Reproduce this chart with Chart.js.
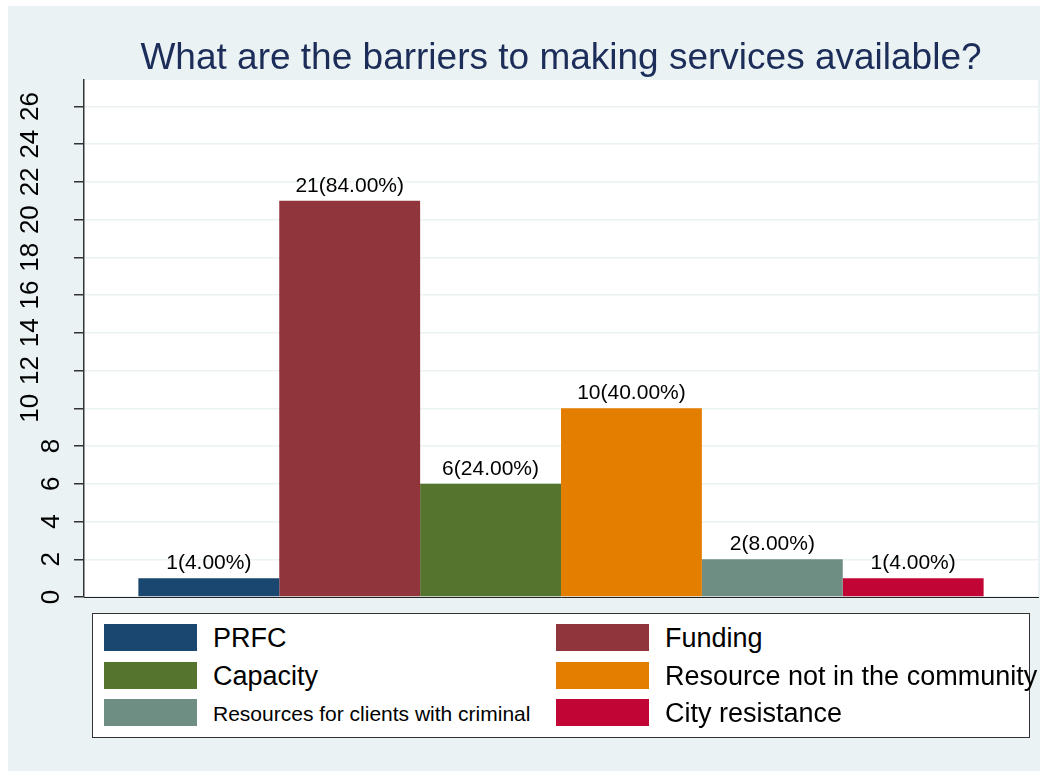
<!DOCTYPE html>
<html>
<head>
<meta charset="utf-8">
<script src="https://cdn.jsdelivr.net/npm/chart.js@4"></script>
<style>
  body { margin: 0; background: #fff; font-family: "Liberation Sans", Arial, sans-serif; }
  #bg { position: absolute; left: 8px; top: 6px; width: 1032px; height: 765px; background: #eaf2f3; }
  #canvas { position: absolute; left: 0; top: 0; }
  #legend { position: absolute; left: 92px; top: 613px; width: 936px; height: 123px;
            background: #fff; border: 1px solid #333; }
  .item { position: absolute; width: 400px; height: 27px; }
  .sw { position: absolute; left: 0; top: 0; width: 93px; height: 27px; }
  .lab { position: absolute; left: 109px; top: 50%; transform: translateY(-50%);
         white-space: nowrap; color: #000; line-height: 1; }
</style>
</head>
<body>
<div id="bg"></div>
<canvas id="canvas" width="1053" height="771"></canvas>
<div id="legend"></div>
<script>
let title = 'What are the barriers to making services available?';
let categories = ['PRFC', 'Funding', 'Capacity', 'Resource not in the community',
                  'Resources for clients with criminal', 'City resistance'];
let counts   = [1, 21, 6, 10, 2, 1];
let percents = [4, 84, 24, 40, 8, 4];
let yTicks   = [0, 2, 4, 6, 8, 10, 12, 14, 16, 18, 20, 22, 24, 26];
let yMax = 27.4;

// stata s2color palette
let colors = ['#1a476f', '#90353b', '#55752f', '#e37e00', '#6e8e84', '#c10534'];

let font = '"Liberation Sans", Arial, sans-serif';

// white plot region, rotated y labels, value labels over bars
let stataLook = {
  id: 'stataLook',
  beforeDraw(chart) {
    let a = chart.chartArea, ctx = chart.ctx;
    ctx.save();
    ctx.fillStyle = '#fff';
    ctx.fillRect(a.left, a.top, a.right - a.left, a.bottom - a.top);
    ctx.restore();
  },
  afterDatasetsDraw(chart) {
    let ctx = chart.ctx;
    ctx.save();
    ctx.fillStyle = '#000';
    ctx.textAlign = 'center';
    ctx.textBaseline = 'alphabetic';
    ctx.font = '21px ' + font;
    chart.data.datasets.forEach((ds, i) => {
      let bar = chart.getDatasetMeta(i).data[0];
      ctx.fillText(counts[i] + '(' + percents[i].toFixed(2) + '%)', bar.x, bar.y - 9);
    });

    let ys = chart.scales.y;
    ctx.font = '26px ' + font;
    ctx.textBaseline = 'middle';
    yTicks.forEach(v => {
      let s = String(v);
      let x = s.length > 1 ? 31 : 52;
      ctx.save();
      ctx.translate(x, ys.getPixelForValue(v));
      ctx.rotate(-Math.PI / 2);
      ctx.fillText(s, 0, 0);
      ctx.restore();
    });
    ctx.restore();
  }
};

let options = {
  type: 'bar',
  data: {
    labels: [''],
    datasets: categories.map((c, i) => ({
      label: c,
      data: [counts[i]],
      backgroundColor: colors[i],
      borderWidth: 0,
      barPercentage: 1.0,
      categoryPercentage: 0.886
    }))
  },
  options: {
    responsive: false,
    animation: false,
    layout: { padding: { top: 6, left: 0, right: 15, bottom: 0 } },
    plugins: {
      legend: { display: false },
      tooltip: { enabled: false },
      title: {
        display: true,
        text: title,
        fullSize: false,
        color: '#1c2d59',
        font: { family: font, size: 37, weight: 'normal', lineHeight: 1.1 },
        padding: { top: 32, bottom: 1.3 }
      }
    },
    scales: {
      x: {
        grid: { display: false },
        border: { display: true, color: '#222', width: 1 },
        ticks: { display: false },
        afterFit(s) { s.height = 174; }
      },
      y: {
        min: 0,
        max: yMax,
        afterBuildTicks(s) { s.ticks = yTicks.map(v => ({ value: v })); },
        ticks: { display: false },
        grid: { color: '#eaf2f3', lineWidth: 1.5, tickColor: '#333', tickLength: 10 },
        border: { display: true, color: '#333', width: 1.5 },
        afterFit(s) { s.width = 84; }
      }
    }
  },
  plugins: [stataLook]
};

let chart = new Chart(document.getElementById('canvas'), options);

// two-column boxed legend as in the stata output
let legend = document.getElementById('legend');
chart.data.datasets.forEach((ds, i) => {
  let item = document.createElement('div');
  item.className = 'item';
  item.style.left = (i % 2 ? 463 : 11) + 'px';
  item.style.top = [10, 48, 85][Math.floor(i / 2)] + 'px';
  let sw = document.createElement('div');
  sw.className = 'sw';
  sw.style.background = ds.backgroundColor;
  let lab = document.createElement('div');
  lab.className = 'lab';
  lab.style.fontSize = (ds.label.length > 30 ? 21 : 27) + 'px';
  lab.textContent = ds.label;
  item.appendChild(sw);
  item.appendChild(lab);
  legend.appendChild(item);
});
</script>
</body>
</html>
